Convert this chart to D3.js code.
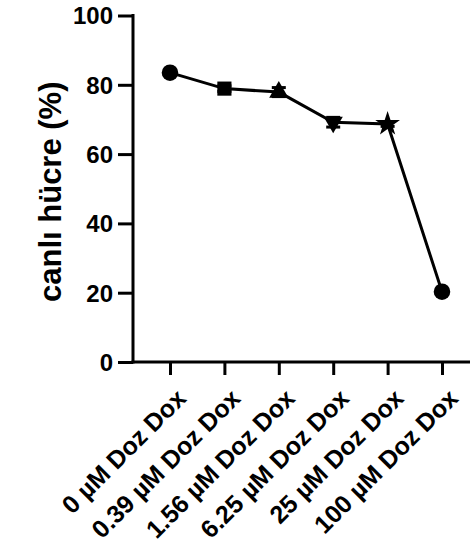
<!DOCTYPE html>
<html>
<head>
<meta charset="utf-8">
<script src="https://d3js.org/d3.v7.min.js"></script>
<style>
  body { margin: 0; background: #fff; }
  text { font-family: "Liberation Sans", Arial, sans-serif; font-weight: bold; fill: #000; }
</style>
</head>
<body>
<svg width="473" height="548"></svg>
<script>
const categories = ["0 µM Doz Dox", "0.39 µM Doz Dox", "1.56 µM Doz Dox", "6.25 µM Doz Dox", "25 µM Doz Dox", "100 µM Doz Dox"];
const means = [83.5, 78.9, 77.9, 69.2, 68.7, 20.3];
const errors = [0.5, 0.8, 1.3, 1.4, 0.7, 0.5];
const symbols = ["circle", "square", "triangle", "triangleDown", "star", "circle"];
const yTicks = [0, 20, 40, 60, 80, 100];

const svg = d3.select("svg");
const margin = {left: 133, top: 15.5, bottom: 362, right: 470};

const y = d3.scaleLinear().domain([0, 100]).range([margin.bottom, margin.top]);
const x = d3.scalePoint().domain(categories).range([170, 442]);

// y axis
const yAxis = svg.append("g")
  .attr("transform", `translate(${margin.left},0)`)
  .call(d3.axisLeft(y).tickValues(yTicks).tickSize(15).tickPadding(5));
yAxis.select(".domain").attr("stroke-width", 3).attr("d", `M0,${margin.top - 1.5}V${margin.bottom + 1.5}`);
yAxis.selectAll(".tick line").attr("stroke-width", 3);
yAxis.selectAll(".tick text").style("font-size", "24px").attr("dy", "0.35em");

// x axis
const xAxis = svg.append("g")
  .attr("transform", `translate(0,${margin.bottom})`)
  .call(d3.axisBottom(x).tickSize(13).tickSizeOuter(0));
xAxis.select(".domain").attr("stroke-width", 3).attr("d", `M${margin.left - 1.5},0H${margin.right}`);
xAxis.selectAll(".tick line").attr("stroke-width", 3);
xAxis.selectAll(".tick text")
  .style("font-size", "25px")
  .attr("text-anchor", "end")
  .attr("dy", null)
  .attr("y", 0)
  .attr("transform", "translate(17,38) rotate(-45)");

// y label
svg.append("text")
  .attr("transform", `translate(61,${(margin.top + margin.bottom) / 2 + 3}) rotate(-90)`)
  .attr("text-anchor", "middle")
  .style("font-size", "31px")
  .text("canlı hücre (%)");

// line
const line = d3.line().x((d, i) => x(categories[i])).y(d => y(d));
svg.append("path")
  .datum(means)
  .attr("fill", "none")
  .attr("stroke", "#000")
  .attr("stroke-width", 3)
  .attr("d", line);

// error bars
const eb = svg.append("g").selectAll("g").data(means).join("g")
  .attr("transform", (d, i) => `translate(${x(categories[i])},0)`);
eb.append("line")
  .attr("y1", (d, i) => y(d - errors[i])).attr("y2", (d, i) => y(d + errors[i]))
  .attr("stroke", "#000").attr("stroke-width", 3);
eb.append("line").attr("x1", -7).attr("x2", 7)
  .attr("y1", (d, i) => y(d + errors[i])).attr("y2", (d, i) => y(d + errors[i]))
  .attr("stroke", "#000").attr("stroke-width", 3);
eb.append("line").attr("x1", -7).attr("x2", 7)
  .attr("y1", (d, i) => y(d - errors[i])).attr("y2", (d, i) => y(d - errors[i]))
  .attr("stroke", "#000").attr("stroke-width", 3);

// markers
const symMap = {
  circle: d3.symbolCircle,
  square: d3.symbolSquare,
  triangle: d3.symbolTriangle,
  star: d3.symbolStar
};
const symSize = {circle: 215, square: 200, triangle: 160, triangleDown: 160, star: 190};
svg.append("g").selectAll("path").data(means).join("path")
  .attr("transform", (d, i) => `translate(${x(categories[i])},${y(d)})` + (symbols[i] === "triangleDown" ? " rotate(180)" : ""))
  .attr("d", (d, i) => d3.symbol().type(symMap[symbols[i]] || d3.symbolTriangle).size(symSize[symbols[i]])())
  .attr("fill", "#000");
</script>
</body>
</html>
